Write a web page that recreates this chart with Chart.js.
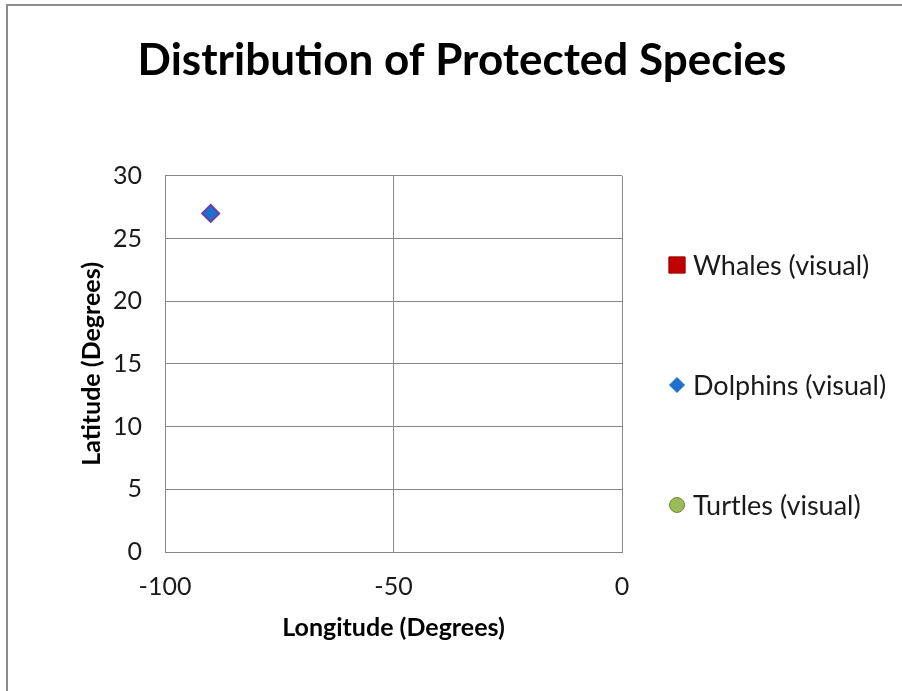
<!DOCTYPE html>
<html>
<head>
<meta charset="utf-8">
<script src="https://cdn.jsdelivr.net/npm/chart.js@4.4.0/dist/chart.umd.min.js"></script>
<style>
  html, body { margin: 0; padding: 0; background: #fff; overflow: hidden; }
  #frame { position: absolute; left: 6px; top: 4px; width: 1000px; height: 1000px;
           border-top: 2px solid #8c8c8c; border-left: 2px solid #8c8c8c; }
  #wrap { position: absolute; left: 0; top: 0; width: 902px; height: 691px; }
</style>
</head>
<body>
<div id="frame"></div>
<div id="wrap"><canvas id="speciesChart" width="902" height="691"></canvas></div>
<script>
// series (longitude, latitude)
const seriesNames = ["Whales (visual)", "Dolphins (visual)", "Turtles (visual)"];
const whaleLon = [];
const whaleLat = [];
const dolphinLon = [-90];
const dolphinLat = [27];
const turtleLon = [];
const turtleLat = [];

// axis ticks
const lonTicks = [-100, -50, 0];
const latTicks = [0, 5, 10, 15, 20, 25, 30];

const FONT = "Lato, 'Open Sans', sans-serif";
const GRID = "#888888";

function toPoints(lons, lats) {
  return lons.map((lon, i) => ({ x: lon, y: lats[i] }));
}

// legend spread down the right side like the Excel original
const spreadLegend = {
  id: "spreadLegend",
  afterDraw(chart) {
    const ctx = chart.ctx;
    const rowsY = [265, 385, 505];
    ctx.save();
    chart.data.datasets.forEach((ds, i) => {
      const y = rowsY[i];
      ctx.fillStyle = ds.backgroundColor;
      ctx.strokeStyle = ds.legendBorder;
      ctx.lineWidth = 1;
      Chart.helpers.drawPoint(ctx, {
        pointStyle: ds.pointStyle,
        radius: ds.legendRadius,
        rotation: 0,
        borderWidth: 1
      }, 677, y);
      ctx.fillStyle = "#1a1a1a";
      ctx.font = "27px " + FONT;
      ctx.textBaseline = "middle";
      ctx.textAlign = "left";
      ctx.fillText(ds.label, 693, y + 1);
    });
    ctx.restore();
  }
};

new Chart(document.getElementById("speciesChart"), {
  type: "scatter",
  data: {
    datasets: [
      {
        label: seriesNames[0],
        data: toPoints(whaleLon, whaleLat),
        pointStyle: "rect",
        pointRadius: 11,
        backgroundColor: "#c00000",
        borderColor: "#8b0000",
        legendBorder: "#9a0000",
        legendRadius: 11.5
      },
      {
        label: seriesNames[1],
        data: toPoints(dolphinLon, dolphinLat),
        pointStyle: "rectRot",
        pointRadius: 8.5,
        borderWidth: 2,
        backgroundColor: "#1f6fcc",
        borderColor: "#6a40a8",
        legendBorder: "#1f6fcc",
        legendRadius: 7.5
      },
      {
        label: seriesNames[2],
        data: toPoints(turtleLon, turtleLat),
        pointStyle: "circle",
        pointRadius: 8,
        backgroundColor: "#9bbb59",
        borderColor: "#71893f",
        legendBorder: "#71893f",
        legendRadius: 7.5
      }
    ]
  },
  options: {
    responsive: false,
    animation: false,
    devicePixelRatio: 1,
    layout: {
      padding: { left: 22, right: 0, top: 0, bottom: 48 }
    },
    plugins: {
      legend: { display: false },
      tooltip: { enabled: false },
      title: {
        display: true,
        text: "Distribution of Protected Species",
        color: "#000",
        font: { family: FONT, size: 44, weight: "bold" },
        padding: { top: 34, bottom: 89 }
      }
    },
    scales: {
      x: {
        type: "linear",
        min: -100,
        max: 0,
        afterBuildTicks: s => { s.ticks = lonTicks.map(v => ({ value: v })); },
        afterFit: s => { s.height = 91; },
        ticks: {
          color: "#1a1a1a",
          padding: 20,
          maxRotation: 0,
          font: { family: FONT, size: 25 }
        },
        grid: { color: GRID, drawTicks: false },
        border: { display: true, color: GRID },
        title: {
          display: true,
          text: "Longitude (Degrees)",
          color: "#000",
          font: { family: FONT, size: 25, weight: "bold" },
          padding: { top: 0, bottom: 0 }
        }
      },
      y: {
        type: "linear",
        min: 0,
        max: 30,
        afterBuildTicks: s => { s.ticks = latTicks.map(v => ({ value: v })); },
        afterFit: s => { s.width = 143; },
        ticks: {
          color: "#1a1a1a",
          padding: 23,
          font: { family: FONT, size: 25 }
        },
        grid: { color: GRID, drawTicks: false },
        border: { display: true, color: GRID },
        title: {
          display: true,
          text: "Latitude (Degrees)",
          color: "#000",
          font: { family: FONT, size: 25, weight: "bold" },
          padding: { top: 55, bottom: 0 }
        }
      },
      // empty right-hand space reserved for the legend
      legendSpace: {
        type: "linear",
        position: "right",
        display: true,
        afterFit: s => { s.width = 280; },
        ticks: { display: false },
        grid: { display: false },
        border: { display: false }
      }
    }
  },
  plugins: [spreadLegend]
});
</script>
</body>
</html>
